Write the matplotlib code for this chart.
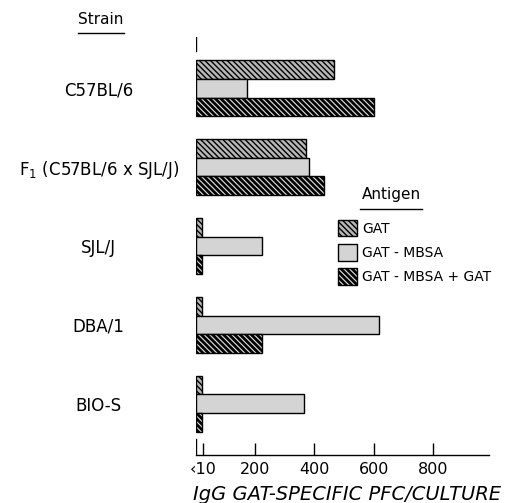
import numpy as np
import matplotlib
matplotlib.use('Agg')
import matplotlib.pyplot as plt
from matplotlib.lines import Line2D

# data
strains = ['C57BL/6', r'F$_1$ (C57BL/6 x SJL/J)', 'SJL/J', 'DBA/1', 'BIO-S']
antigens = ['GAT', 'GAT - MBSA', 'GAT - MBSA + GAT']
gat = [465, 372, 20, 20, 20]            # "<10" responses drawn as stubs
gat_mbsa = [172, 383, 222, 617, 366]
gat_mbsa_gat = [600, 434, 20, 222, 20]
x_ticks = [24, 200, 400, 600, 800]
x_ticklabels = ['\u203910', '200', '400', '600', '800']

plt.rcParams['font.family'] = 'DejaVu Sans'

fig = plt.figure(figsize=(5.06, 5.03), dpi=100)
ax = fig.add_axes([196 / 506, 1 - 455 / 503, 293 / 506, 418 / 503])

y = np.arange(len(strains))
h = 0.24
hatch = '\\' * 6
b1 = ax.barh(y - h, gat, height=h, align='center', color='#b8b8b8', edgecolor='black',
             linewidth=1.0, hatch=hatch, hatch_linewidth=1.0, label=antigens[0])
b2 = ax.barh(y, gat_mbsa, height=h, align='center', color='#d4d4d4', edgecolor='black',
             linewidth=1.0, label=antigens[1])
b3 = ax.barh(y + h, gat_mbsa_gat, height=h, align='center', color='#e0e0e0', edgecolor='black',
             linewidth=1.0, hatch=hatch, hatch_linewidth=2.0, label=antigens[2])

ax.set_xlim(0, 990)
ax.set_ylim(4.646, -0.646)

for s in ['top', 'right', 'left']:
    ax.spines[s].set_visible(False)
ax.spines['bottom'].set_linewidth(1.0)

ax.set_xticks(x_ticks, x_ticklabels, fontsize=11.5)
ax.tick_params(axis='x', direction='in', length=8.6, width=1.0, pad=5)
ax.set_yticks(y, strains, fontsize=12)
ax.tick_params(axis='y', length=0, pad=70)
for lbl in ax.get_yticklabels():
    lbl.set_horizontalalignment('center')

# small vertical marks at the origin
ax.axvline(0, ymin=0, ymax=16 / 418, color='black', lw=1.0)
ax.axvline(0, ymin=(455 - 51) / 418, ymax=1, color='black', lw=1.0)

fig.text(347 / 506, 1 - 495 / 503, 'IgG GAT-SPECIFIC PFC/CULTURE', style='italic',
         fontsize=14, ha='center', va='center')

fig.text(101 / 506, 1 - 20 / 503, 'Strain', fontsize=11, ha='center', va='center')
fig.add_artist(Line2D([78 / 506, 124 / 506], [1 - 33 / 503, 1 - 33 / 503],
                      color='black', lw=1.0, transform=fig.transFigure))

fig.text(391 / 506, 1 - 195 / 503, 'Antigen', fontsize=11, ha='center', va='center')
fig.add_artist(Line2D([360 / 506, 422 / 506], [1 - 209 / 503, 1 - 209 / 503],
                      color='black', lw=1.0, transform=fig.transFigure))

leg = ax.legend(handles=[b1, b2, b3], loc='upper left', bbox_to_anchor=(338 / 506, 1 - 220 / 503),
                bbox_transform=fig.transFigure, frameon=False, fontsize=10,
                handlelength=1.37, handleheight=1.45, labelspacing=0.55, handletextpad=0.36,
                borderpad=0, borderaxespad=0)
for hnd, lw in zip(leg.legend_handles, [1.0, None, 2.0]):
    if lw is not None:
        hnd.set_hatch_linewidth(lw)

fig.savefig('out.png', dpi=100)
